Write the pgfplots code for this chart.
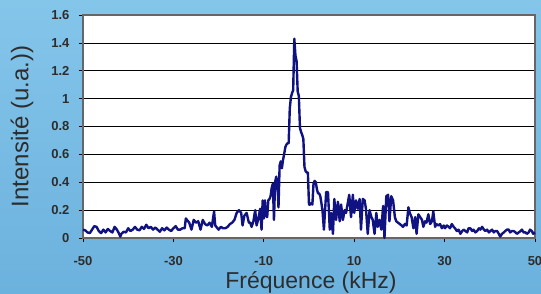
\documentclass[border=0pt]{standalone}
\usepackage{pgfplots}
\pgfplotsset{compat=1.18}
\usepackage{fontspec}
\setmainfont{Liberation Sans}
\definecolor{bgtop}{RGB}{132,197,234}
\definecolor{bgbot}{RGB}{108,178,222}
\definecolor{navy}{RGB}{16,18,130}
\definecolor{txt}{RGB}{45,45,45}
\begin{document}
\begin{tikzpicture}
\useasboundingbox (-83pt,-55pt) rectangle (458pt,238pt);
\shade[top color=bgtop, bottom color=bgbot] (-83pt,-55pt) rectangle (458pt,238pt);
\begin{axis}[
  at={(0,0)}, anchor=south west,
  width=452pt, height=223pt, scale only axis,
  xmin=-50, xmax=50, ymin=0, ymax=1.6,
  xtick={-50,-30,-10,10,30,50},
  ytick={0,0.2,0.4,0.6,0.8,1,1.2,1.4,1.6},
  yticklabels={0,0.2,0.4,0.6,0.8,1,1.2,1.4,1.6},
  axis background/.style={fill=white},
  axis line style={draw=gray!80!black, line width=1.1pt},
  ymajorgrids, major grid style={black, line width=0.7pt},
  tick align=outside, xtick pos=bottom, ytick pos=left,
  major tick length=4pt, tick style={black, line width=0.7pt},
  /pgf/number format/assume math mode=true,
  ticklabel style={font=\fontsize{13}{15}\selectfont\bfseries, text=txt},
  xticklabel style={yshift=-11pt},
  yticklabel style={xshift=-6pt},
  xlabel={Fréquence (kHz)},
  ylabel={Intensité (u.a.))},
  every axis x label/.style={at={(axis description cs:0.5,0)}, anchor=base, xshift=2pt, yshift=-50pt, font=\fontsize{23}{26}\selectfont, text=txt},
  every axis y label/.style={at={(axis description cs:0,0.5)}, anchor=center, xshift=-61pt, rotate=90, font=\fontsize{24}{27}\selectfont, text=txt},
  clip=false,
]
\addplot[navy, line width=2.4pt, line join=round] coordinates {
(-50,0.06) (-49.5,0.055) (-49,0.04) (-48.5,0.035) (-48,0.06) (-47.5,0.085) (-47,0.08) (-46.5,0.05) (-46,0.035) (-45.5,0.06) (-45,0.04) (-44.5,0.065) (-44,0.05) (-43.5,0.04) (-43,0.08) (-42.5,0.06) (-42,0.03) (-41.75,0.01) (-41.5,0.03) (-41,0.045) (-40.5,0.04) (-40,0.07) (-39.5,0.05) (-39,0.06) (-38.5,0.08) (-38,0.06) (-37.5,0.055) (-37,0.08) (-36.5,0.065) (-36,0.095) (-35.5,0.07) (-35,0.08) (-34.5,0.06) (-34,0.075) (-33.5,0.06) (-33,0.045) (-32.5,0.07) (-32,0.055) (-31.5,0.075) (-31,0.06) (-30.5,0.05) (-30,0.07) (-29.5,0.085) (-29,0.06) (-28.5,0.06) (-28,0.07) (-27.5,0.07) (-27.25,0.14) (-27,0.13) (-26.5,0.11) (-26,0.06) (-25.5,0.13) (-25,0.11) (-24.5,0.12) (-24,0.06) (-23.5,0.13) (-23,0.10) (-22.5,0.09) (-22,0.11) (-21.5,0.08) (-21,0.19) (-20.75,0.09) (-20.5,0.08) (-20,0.06) (-19.5,0.08) (-19,0.07) (-18.5,0.07) (-18,0.08) (-17.5,0.10) (-17,0.11) (-16.5,0.13) (-16,0.18) (-15.5,0.20) (-15,0.18) (-14.7,0.09) (-14.3,0.16) (-13.8,0.18) (-13.3,0.11) (-13,0.11) (-12.7,0.08) (-12.3,0.12) (-11.9,0.20) (-11.6,0.09) (-11.2,0.14) (-10.8,0.21) (-10.5,0.06) (-10.25,0.27) (-10,0.14) (-9.75,0.27) (-9.5,0.16) (-9.25,0.15) (-9,0.27) (-8.75,0.28) (-8.5,0.30) (-8.25,0.36) (-8,0.39) (-7.75,0.13) (-7.5,0.40) (-7.25,0.44) (-7,0.40) (-6.75,0.22) (-6.5,0.52) (-6.25,0.55) (-6,0.50) (-5.75,0.56) (-5.5,0.60) (-5.25,0.65) (-5,0.67) (-4.75,0.68) (-4.5,0.68) (-4.25,0.93) (-4,1.01) (-3.75,1.04) (-3.5,1.06) (-3.25,1.43) (-3,1.31) (-2.75,1.27) (-2.5,1.05) (-2.25,1.02) (-2,0.79) (-1.75,0.76) (-1.5,0.74) (-1.25,0.71) (-1,0.51) (-0.75,0.48) (-0.5,0.47) (-0.25,0.47) (0,0.24) (0.25,0.24) (0.5,0.25) (0.75,0.24) (1,0.39) (1.25,0.41) (1.5,0.40) (1.75,0.35) (2,0.32) (2.25,0.32) (2.5,0.30) (2.75,0.25) (3,0.19) (3.3,0.06) (3.8,0.33) (4.2,0.33) (4.6,0.06) (4.9,0.18) (5.3,0.03) (5.6,0.28) (6.0,0.13) (6.4,0.26) (6.8,0.12) (7.1,0.24) (7.5,0.13) (7.9,0.20) (8.2,0.18) (8.9,0.31) (9.3,0.15) (9.7,0.31) (10.0,0.18) (10.4,0.27) (10.8,0.21) (11.2,0.28) (11.5,0.06) (11.9,0.28) (12.3,0.27) (12.6,0.21) (13.0,0.03) (13.4,0.20) (13.8,0.15) (14.1,0.13) (14.5,0.03) (14.9,0.18) (15.2,0.08) (15.6,0.13) (16.0,0.06) (16.4,0.23) (16.7,0.0) (17.1,0.30) (17.5,0.31) (17.8,0.12) (18.2,0.30) (18.6,0.27) (19.0,0.15) (19.3,0.12) (19.7,0.11) (20.1,0.10) (20.5,0.09) (20.8,0.08) (21.2,0.10) (21.6,0.09) (22.0,0.22) (22.3,0.18) (22.7,0.15) (23.1,0.07) (23.5,0.15) (23.8,0.03) (24.2,0.17) (24.6,0.15) (25.0,0.13) (25.3,0.08) (25.7,0.12) (26.0,0.11) (26.4,0.17) (26.8,0.10) (27.2,0.12) (27.5,0.19) (27.9,0.08) (28.2,0.10) (28.6,0.09) (29.0,0.10) (29.4,0.07) (29.8,0.09) (30.1,0.07) (30.5,0.09) (30.9,0.08) (31.2,0.07) (31.6,0.10) (32.0,0.08) (32.3,0.07) (32.7,0.05) (33.1,0.06) (33.5,0.03) (33.9,0.05) (34.2,0.06) (34.6,0.05) (35.0,0.04) (35.3,0.07) (35.7,0.07) (36.1,0.05) (36.4,0.06) (36.8,0.04) (37.2,0.05) (37.6,0.07) (37.9,0.06) (38.3,0.08) (38.7,0.06) (39.0,0.05) (39.4,0.06) (39.8,0.04) (40.1,0.05) (40.5,0.06) (40.9,0.04) (41.2,0.05) (41.6,0.05) (42.0,0.03) (42.3,0.01) (42.7,0.03) (43.1,0.04) (43.4,0.05) (43.8,0.06) (44.2,0.06) (44.5,0.04) (44.9,0.05) (45.3,0.05) (45.7,0.04) (46.0,0.03) (46.4,0.04) (46.8,0.05) (47.1,0.06) (47.5,0.04) (47.9,0.04) (48.2,0.03) (48.6,0.04) (48.9,0.06) (49.3,0.05) (49.6,0.03) (50,0.04)
};
\end{axis}
\end{tikzpicture}
\end{document}
